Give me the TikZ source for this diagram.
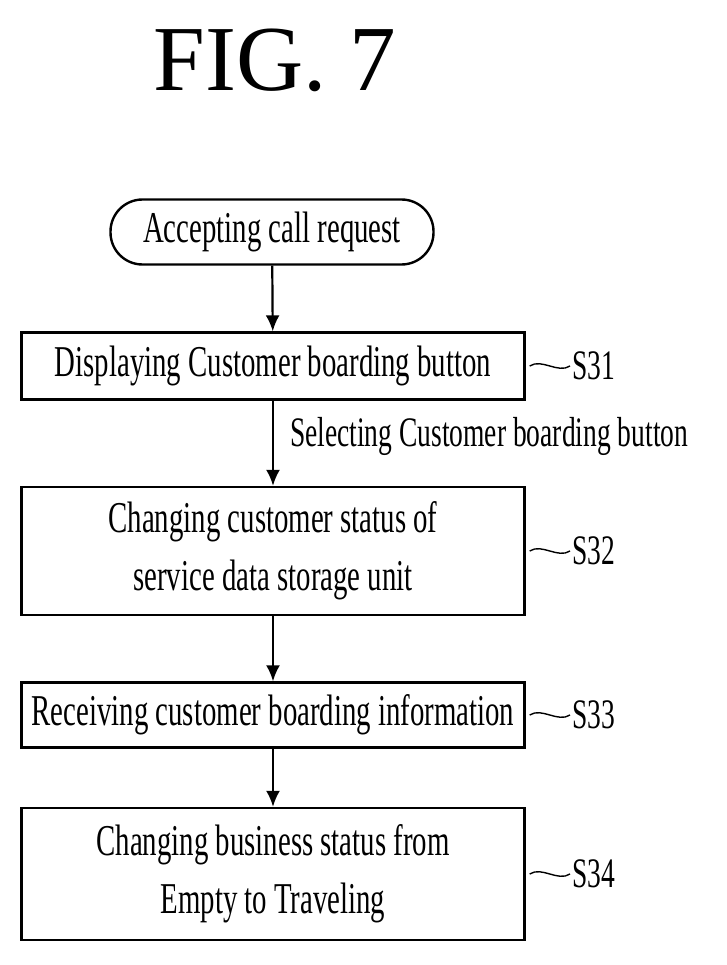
\documentclass[tikz,border=0pt]{standalone}
\usepackage{fontspec}
\setmainfont{Liberation Serif}[FakeStretch=0.655]
\newfontfamily\titlefont{Liberation Serif}
\usetikzlibrary{arrows.meta}
\begin{document}
\begin{tikzpicture}[x=1pt,y=-1pt,
  box/.style={draw,line width=2.4pt,minimum width=503pt,align=center,font=\fontsize{44}{58}\selectfont,inner sep=0pt},
  lab/.style={font=\fontsize{42}{50}\selectfont,anchor=west,inner sep=2pt},
  arr/.style={-{Latex[length=16pt,width=14pt]},line width=2.2pt},
  lead/.style={line width=1.4pt}]
\useasboundingbox (0,0) rectangle (727,965);
\node[font=\titlefont\fontsize{93}{100}\selectfont] (t) at (275,60) {FIG. 7};
\node[draw,line width=2.4pt,rounded corners=32pt,minimum width=323pt,minimum height=65pt,font=\fontsize{44}{50}\selectfont,inner sep=0pt] (a) at (272,232) {Accepting call request};
\node[box,minimum height=67pt] (s31) at (273,366) {Displaying Customer boarding button};
\node[box,minimum height=128pt] (s32) at (273,551) {Changing customer status of\\service data storage unit};
\node[box,minimum height=65pt] (s33) at (273,715) {Receiving customer boarding information};
\node[box,minimum height=132pt] (s34) at (273,874) {Changing business status from\\Empty to Traveling};
\draw[arr] (a) -- (s31);
\draw[arr] (s31) -- node[lab,pos=0.42,xshift=14pt] (sel) {Selecting Customer boarding button} (s32);
\draw[arr] (s32) -- (s33);
\draw[arr] (s33) -- (s34);
\foreach \n/\t/\y in {s31/S31/366,s32/S32/551,s33/S33/715,s34/S34/874}{
  \node[lab] (l\n) at (570,\y) {\t};
  \draw[lead] (s31.east |- 0,\y) ++(4,0) .. controls +(12,-8) and +(-12,8) .. (l\n.west);
}
\end{tikzpicture}
\end{document}
